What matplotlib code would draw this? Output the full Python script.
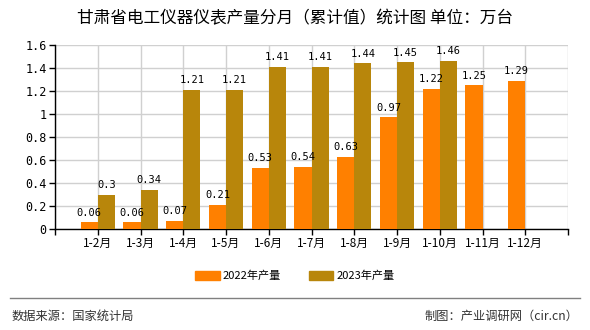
import matplotlib
matplotlib.use('Agg')
import matplotlib.pyplot as plt
from matplotlib.lines import Line2D
from matplotlib.patches import Patch
import numpy as np

plt.rcParams['font.family'] = ['Noto Sans CJK SC', 'DejaVu Sans']

# data
months = ['1-2月', '1-3月', '1-4月', '1-5月', '1-6月', '1-7月', '1-8月',
          '1-9月', '1-10月', '1-11月', '1-12月']
prod_2022 = [0.06, 0.06, 0.07, 0.21, 0.53, 0.54, 0.63, 0.97, 1.22, 1.25, 1.29]
prod_2023 = [0.3, 0.34, 1.21, 1.21, 1.41, 1.41, 1.44, 1.45, 1.46, None, None]
yticks = [0, 0.2, 0.4, 0.6, 0.8, 1, 1.2, 1.4, 1.6]
ytick_labels = ['0', '0.2', '0.4', '0.6', '0.8', '1', '1.2', '1.4', '1.6']

c22 = '#ff8000'
c23 = '#b8860b'

fig = plt.figure(figsize=(5.9, 3.3), dpi=100)
ax = fig.add_axes([55/590, 1 - 229/330, (568 - 55)/590, (229 - 45)/330])

x = np.arange(1, len(months) + 1)
w = 0.4
for i, v in enumerate(prod_2022):
    ax.bar(x[i] - w/2, v, w, color=c22, zorder=3)
    ax.text(x[i] - w/2, v + 0.04, f'{v:g}', ha='center', va='bottom',
            fontsize=7.5, family='DejaVu Sans Mono', zorder=4)
for i, v in enumerate(prod_2023):
    if v is None:
        continue
    ax.bar(x[i] + w/2, v, w, color=c23, zorder=3)
    ax.text(x[i] + w/2, v + 0.04, f'{v:g}', ha='center', va='bottom',
            fontsize=7.5, family='DejaVu Sans Mono', zorder=4)

ax.set_xlim(0, 12)
ax.set_ylim(0, 1.6)
ax.set_xticks(np.arange(0, 13))
ax.set_xticklabels([''] + months + [''], fontsize=8.5)
ax.set_yticks(yticks)
ax.set_yticklabels(ytick_labels, fontsize=8.5, family='DejaVu Sans Mono')
ax.tick_params(axis='both', length=4, width=1, color='black', pad=2)
ax.grid(True, color='#d0d0d0', linewidth=1, zorder=0)
for s in ['top', 'right']:
    ax.spines[s].set_visible(False)
for s in ['left', 'bottom']:
    ax.spines[s].set_color('black')
    ax.spines[s].set_linewidth(1)

fig.text(0.5, 1 - 19/330, '甘肃省电工仪器仪表产量分月（累计值）统计图 单位：万台',
         ha='center', va='center', fontsize=12)

handles = [Patch(color=c22), Patch(color=c23)]
fig.legend(handles, ['2022年产量', '2023年产量'], loc='center',
           bbox_to_anchor=(0.5, 1 - 276/330), ncol=2, frameon=False,
           fontsize=8, handlelength=2.2, handleheight=0.8, columnspacing=2.5,
           handletextpad=0.3)

fig.add_artist(Line2D([10/590, 580/590], [1 - 298/330, 1 - 298/330],
                      color='#808080', linewidth=1))
fig.text(12/590, 1 - 316/330, '数据来源：国家统计局', ha='left', va='center',
         fontsize=8.8, color='#333333')
fig.text(578/590, 1 - 316/330, '制图：产业调研网（cir.cn）', ha='right',
         va='center', fontsize=8.8, color='#333333')

fig.savefig('out.png', dpi=100)
